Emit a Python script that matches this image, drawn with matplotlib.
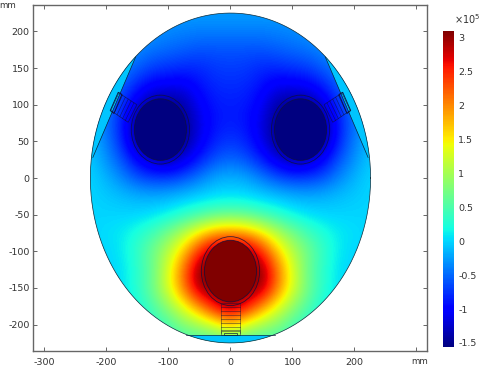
import numpy as np
import matplotlib
matplotlib.use('Agg')
import matplotlib.pyplot as plt
from matplotlib.patches import Ellipse, Polygon

# field, 1e5 units, rows top to bottom
x_grid = [-225, -200, -175, -150, -125, -100, -75, -50, -25, 0, 25, 50, 75, 100, 125, 150, 175, 200, 225]
y_grid = [225, 200, 175, 150, 125, 100, 75, 50, 25, 0, -25, -50, -75, -100, -125, -150, -175, -200, -225]
field = [
    [-.2, -.22, -.22, -.25, -.25, -.25, -.25, -.25, -.25, -.25, -.25, -.25, -.25, -.25, -.25, -.25, -.22, -.22, -.2],
    [-.2, -.22, -.25, -.25, -.3, -.35, -.38, -.4, -.4, -.4, -.4, -.4, -.38, -.35, -.3, -.25, -.25, -.22, -.2],
    [-.2, -.22, -.25, -.35, -.45, -.5, -.55, -.6, -.6, -.6, -.6, -.6, -.55, -.5, -.45, -.35, -.25, -.22, -.2],
    [-.2, -.3, -.4, -.55, -.7, -.75, -.8, -.8, -.72, -.7, -.72, -.8, -.8, -.75, -.7, -.55, -.4, -.3, -.2],
    [-.2, -.35, -.55, -.85, -1.05, -1.1, -1.1, -.92, -.8, -.78, -.8, -.92, -1.1, -1.1, -1.05, -.85, -.55, -.35, -.2],
    [-.2, -.4, -.75, -1.2, -1.5, -1.5, -1.4, -1.05, -.87, -.85, -.87, -1.05, -1.4, -1.5, -1.5, -1.2, -.75, -.4, -.2],
    [-.15, -.45, -.85, -1.5, -1.55, -1.55, -1.5, -1.15, -.9, -.85, -.9, -1.15, -1.5, -1.55, -1.55, -1.5, -.85, -.45, -.15],
    [-.1, -.4, -.8, -1.45, -1.55, -1.55, -1.5, -1.1, -.82, -.72, -.82, -1.1, -1.5, -1.55, -1.55, -1.45, -.8, -.4, -.1],
    [-.05, -.3, -.6, -1.0, -1.3, -1.4, -1.15, -.85, -.6, -.5, -.6, -.85, -1.15, -1.4, -1.3, -1.0, -.6, -.3, -.05],
    [0, -.15, -.35, -.6, -.7, -.7, -.6, -.4, -.2, -.15, -.2, -.4, -.6, -.7, -.7, -.6, -.35, -.15, 0],
    [0, -.05, -.1, -.15, -.18, -.15, -.08, -.02, .03, .05, .03, -.02, -.08, -.15, -.18, -.15, -.1, -.05, 0],
    [0, 0, 0, 0, .05, .15, .3, .45, .6, .65, .6, .45, .3, .15, .05, 0, 0, 0, 0],
    [0, .05, .1, .25, .45, .75, 1.1, 1.55, 1.9, 2.0, 1.9, 1.55, 1.1, .75, .45, .25, .1, .05, 0],
    [0, 0, .1, .35, .7, 1.1, 1.7, 2.5, 3.1, 3.1, 3.1, 2.5, 1.7, 1.1, .7, .35, .1, 0, 0],
    [0, 0, .05, .3, .65, 1.3, 2.15, 3.1, 3.1, 3.1, 3.1, 3.1, 2.15, 1.3, .65, .3, .05, 0, 0],
    [0, 0, .05, .3, .7, 1.3, 2.1, 3.0, 3.1, 3.1, 3.1, 3.0, 2.1, 1.3, .7, .3, .05, 0, 0],
    [0, 0, .05, .2, .5, .9, 1.4, 2.0, 2.7, 3.1, 2.7, 2.0, 1.4, .9, .5, .2, .05, 0, 0],
    [0, 0, .05, .15, .3, .5, .8, 1.0, 1.3, 1.7, 1.3, 1.0, .8, .5, .3, .15, .05, 0, 0],
    [0, 0, 0, .1, .2, .3, .4, .4, .4, .5, .4, .4, .4, .3, .2, .1, 0, 0, 0],
]
vmin, vmax = -1.56, 3.1
side_cap_value = -0.08
bottom_cap_value = -0.08
eye_value = -1.56
mouth_value = 3.1

x_ticks = [-300, -200, -100, 0, 100, 200, 300]
x_labels = ['-300', '-200', '-100', '0', '100', '200', '']
y_ticks = [-200, -150, -100, -50, 0, 50, 100, 150, 200]
y_labels = ['-200', '-150', '-100', '-50', '0', '50', '100', '150', '200']
cbar_ticks = [-1.5, -1, -0.5, 0, 0.5, 1, 1.5, 2, 2.5, 3]
cbar_labels = ['-1.5', '-1', '-0.5', '0', '0.5', '1', '1.5', '2', '2.5', '3']

# geometry, mm
head_a, head_b = 226, 225
eyes = [(-113, 66), (113, 66)]
mouth = (0, -127)
left_chord = [(-153, 165), (-222, 28)]
right_chord = [(153, 165), (222, 28)]
bottom_chord = [(-72, -214), (72, -214)]
stem_ys = [-170, -176, -181, -187, -192, -198, -203, -208]
hatch_steps = [0.16, 0.32, 0.48, 0.64, 0.8]

W, H = 480, 367
GREY = '#666666'
TXT = '#333333'
plt.rcParams['font.family'] = 'DejaVu Sans'
plt.rcParams['font.size'] = 6.8

fig = plt.figure(figsize=(W / 100, H / 100), dpi=100)
ax = fig.add_axes([33 / W, 1 - 351 / H, 394 / W, 346 / H])

im = ax.imshow(field, cmap='jet', vmin=vmin, vmax=vmax, interpolation='bicubic',
               extent=[x_grid[0] - 12.5, x_grid[-1] + 12.5, y_grid[-1] - 12.5, y_grid[0] + 12.5],
               aspect='auto', zorder=1)
head = Ellipse((0, 0), 2 * head_a, 2 * head_b, fc='none', ec='none')
ax.add_patch(head)
im.set_clip_path(head)

cmap = plt.get_cmap('jet')
norm = plt.Normalize(vmin, vmax)
line = dict(color='#0a2a3a', lw=0.5, zorder=4)
soft = dict(color='#10103a', lw=0.5, zorder=4, alpha=0.6)

# caps cut off by the chords
t = np.linspace(0, 2 * np.pi, 721)
ex, ey = head_a * np.cos(t), head_b * np.sin(t)
bot = ey < bottom_chord[0][1]
ax.fill(ex[bot], ey[bot], color=cmap(norm(bottom_cap_value)), zorder=2, lw=0)
for chord in (left_chord, right_chord):
    (x0, y0), (x1, y1) = chord
    mask = (ex * np.sign(x0) > 0) & (ey > 0) & (np.abs(ex) > abs(x0) + (y0 - ey) * (abs(x1) - abs(x0)) / (y0 - y1))
    ax.fill(ex[mask], ey[mask], color=cmap(norm(side_cap_value)), zorder=2, lw=0)
    ax.plot([x0, x1], [y0, y1], **line)
ax.plot(*zip(*bottom_chord), **line)
ax.plot(ex, ey, **line)

# eye and mouth rings, filled inside
for cx, cy in eyes:
    ax.add_patch(Ellipse((cx, cy), 84, 84, fc=cmap(norm(eye_value)), ec='none', zorder=3))
ax.add_patch(Ellipse(mouth, 84, 84, fc=cmap(norm(mouth_value)), ec='none', zorder=3))
for cx, cy in eyes + [mouth]:
    for r in (42, 47):
        ax.add_patch(Ellipse((cx, cy), 2 * r, 2 * r, fc='none', ec='#10103a', lw=0.6, zorder=4, alpha=0.8))

# mouth stem
ax.plot([-15, -15], [-172, -212], **soft)
ax.plot([15, 15], [-172, -212], **soft)
for y in stem_ys:
    ax.plot([-15, 15], [y, y], **soft)
ax.add_patch(Polygon([(-16, -214), (-16, -209), (16, -209), (16, -214)], fc='none', ec=soft['color'],
                     lw=0.5, alpha=0.6, zorder=4))
ax.add_patch(Polygon([(-10, -214), (-10, -211), (10, -211), (10, -214)], fc='none', zorder=4, lw=0.5, ec='#0a2a3a'))

# side stems with sensor boxes
for sx in (-1, 1):
    inner = np.array([(sx * 151, 100), (sx * 165, 76)])
    outer = np.array([(sx * 180, 116), (sx * 193, 92)])
    ax.add_patch(Polygon([inner[0], inner[1], outer[1], outer[0]], fc='none', ec='#10103a',
                         lw=0.5, zorder=4, alpha=0.7))
    for f in hatch_steps:
        p = inner + (outer - inner) * f
        ax.plot(p[:, 0], p[:, 1], color='#10103a', lw=0.45, alpha=0.65, zorder=4)
    ax.add_patch(Polygon([(sx * 181, 117), (sx * 194, 92), (sx * 188, 88), (sx * 175, 114)],
                         fc='none', ec='#10103a', lw=0.6, zorder=4))

ax.set_xlim(-318.5, 317)
ax.set_ylim(-236, 236)
ax.set_xticks(x_ticks, labels=x_labels)
ax.set_yticks(y_ticks, labels=y_labels)
ax.tick_params(direction='in', length=3, width=0.7, color=GREY, labelcolor=TXT,
               top=True, right=True)
ax.tick_params(axis='x', pad=5)
ax.tick_params(axis='y', pad=2.5)
for s in ax.spines.values():
    s.set_color(GREY)
    s.set_linewidth(1.0)
fig.text(420 / W, 1 - 362 / H, 'mm', ha='center', va='center', color=TXT, fontsize=6.2)
fig.text(8 / W, 1 - 6 / H, 'mm', ha='center', va='center', color=TXT, fontsize=6.2)

# colorbar
cax = fig.add_axes([443 / W, 1 - 347 / H, 11 / W, 316 / H])
sm = plt.cm.ScalarMappable(norm=norm, cmap=cmap)
cb = fig.colorbar(sm, cax=cax)
cb.set_ticks(cbar_ticks, labels=cbar_labels)
cb.outline.set_visible(False)
cb.ax.tick_params(length=0, labelcolor=TXT, pad=3)
fig.text(454 / W, 1 - 19 / H, r'$\times10^5$', ha='left', va='center', color=TXT, fontsize=7,
         math_fontfamily='dejavusans')

fig.savefig('out.png', dpi=100)
